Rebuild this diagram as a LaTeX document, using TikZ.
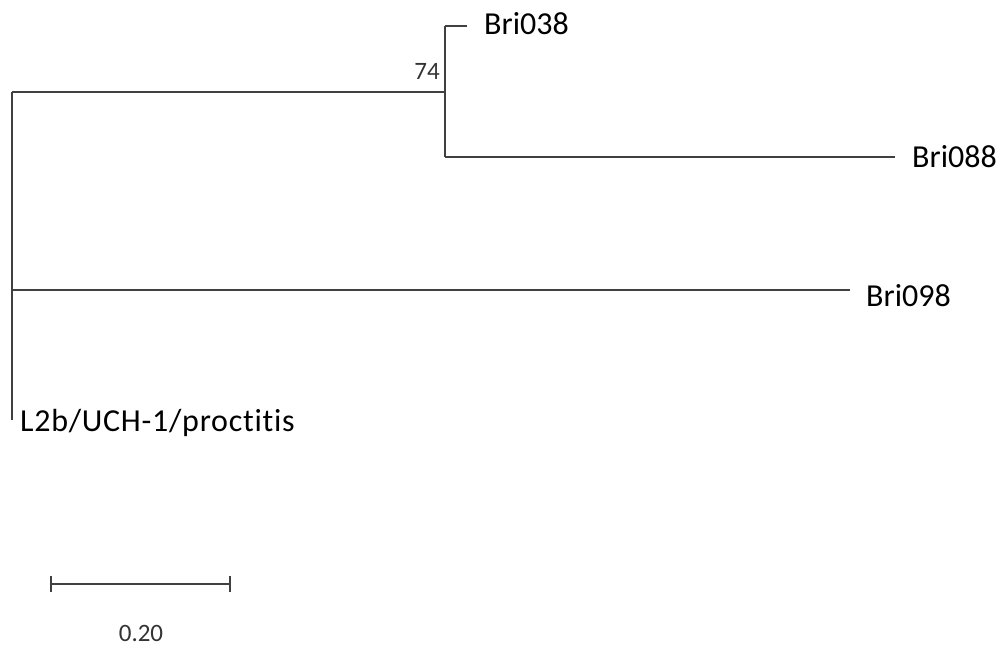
\documentclass[tikz,border=0pt]{standalone}
\usepackage{fontspec}
\setmainfont{Carlito}[Ligatures={NoCommon}]
\newfontfamily\widefont{Carlito}[Ligatures={NoCommon},LetterSpace=2.3]
\begin{document}
\begin{tikzpicture}[x=1pt,y=-1pt,
  br/.style={draw=black!75,line width=1.8pt},
  taxon/.style={font=\fontsize{32}{36}\selectfont,anchor=west,inner sep=0pt,text=black},
  small/.style={font=\fontsize{25}{28}\selectfont,inner sep=0pt,text=black!80}]
\useasboundingbox (0,0) rectangle (1002,646);
% internal nodes
\coordinate (rtop) at (12,92);
\coordinate (rmid) at (12,290);
\coordinate (rbot) at (12,420);
\coordinate (n1) at (445,92);
\coordinate (n1top) at (445,26);
\coordinate (n1bot) at (445,157);
\coordinate (t38) at (467,26);
\coordinate (t88) at (895,157);
\coordinate (t98) at (850,290);
% tree
\draw[br] (rtop) -- (rbot);
\draw[br] (rtop) -- (n1);
\draw[br] (n1top) -- (n1bot);
\draw[br] (n1top) -- (t38);
\draw[br] (n1bot) -- (t88);
\draw[br] (rmid) -- (t98);
% labels
\node[taxon] (l38) at (484,24) {Bri038};
\node[taxon] (l88) at (912,157) {Bri088};
\node[taxon] (l98) at (866,296) {Bri098};
\node[taxon,font=\widefont\fontsize{32}{36}\selectfont] (lL2b) at (20,423) {L2b/UCH-1/proctitis};
\node[small,anchor=east] (b74) at (440,71) {74};
% scale bar
\coordinate (s1) at (51,584);
\coordinate (s2) at (230,584);
\draw[br] (s1) -- (s2);
\draw[br] ([yshift=-8pt]s1) -- ([yshift=8pt]s1);
\draw[br] ([yshift=-8pt]s2) -- ([yshift=8pt]s2);
\node[small] (sl) at (141,633) {0.20};
\end{tikzpicture}
\end{document}
